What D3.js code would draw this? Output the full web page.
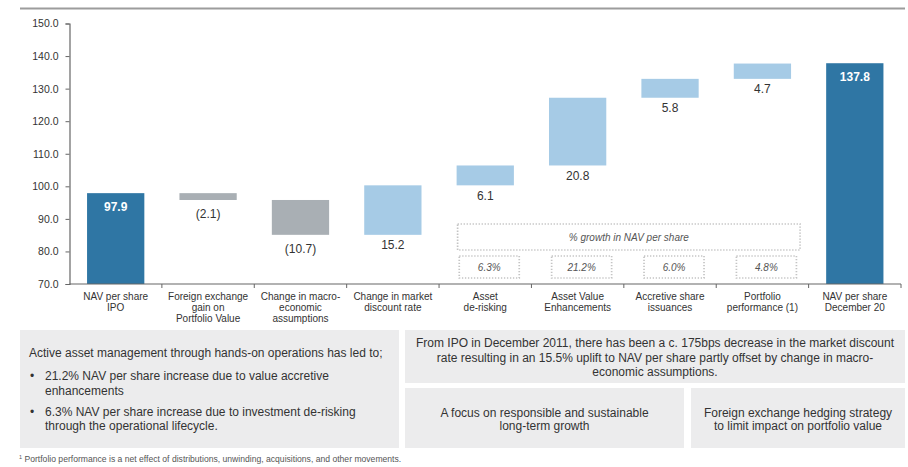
<!DOCTYPE html>
<html>
<head>
<meta charset="utf-8">
<script src="https://cdn.jsdelivr.net/npm/d3@7"></script>
<style>
  html, body { margin: 0; padding: 0; background: #fff; }
  svg { display: block; font-family: "Liberation Sans", Arial, Helvetica, sans-serif; }
</style>
</head>
<body>
<svg id="chart" width="908" height="467"></svg>
<script>
// NAV per share bridge: IPO to December 2020
const categories = [
  ["NAV per share", "IPO"],
  ["Foreign exchange", "gain on", "Portfolio Value"],
  ["Change in macro-", "economic", "assumptions"],
  ["Change in market", "discount rate"],
  ["Asset", "de-risking"],
  ["Asset Value", "Enhancements"],
  ["Accretive share", "issuances"],
  ["Portfolio", "performance (1)"],
  ["NAV per share", "December 20"]
];
const steps = [97.9, -2.1, -10.7, 15.2, 6.1, 20.8, 5.8, 4.7, 137.8];
const stepTypes = ["total", "delta", "delta", "delta", "delta", "delta", "delta", "delta", "total"];
const growthLabels = ["6.3%", "21.2%", "6.0%", "4.8%"];
const growthIndex = [4, 5, 6, 7];
const yTicks = [70, 80, 90, 100, 110, 120, 130, 140, 150];

const colors = { total: "#2F76A4", up: "#A6CBE6", down: "#A9AFB4", text: "#333", axis: "#666" };

const svg = d3.select("#chart");

// header rule
svg.append("line").attr("x1", 20).attr("x2", 905).attr("y1", 8.5).attr("y2", 8.5)
  .attr("stroke", "#9c9c9c").attr("stroke-width", 2);

const keys = categories.map((c, i) => "c" + i);
const x = d3.scaleBand().domain(keys).range([69.5, 901]).paddingInner(0.38).paddingOuter(0.19);
const y = d3.scaleLinear().domain([70, 150]).range([284, 23.5]);

// running totals for the waterfall
let running = 0;
const bars = steps.map((v, i) => {
  let lo, hi;
  if (stepTypes[i] === "total") { lo = 70; hi = v; running = v; }
  else { const start = running; running = start + v; lo = Math.min(start, running); hi = Math.max(start, running); }
  return { key: keys[i], v, lo, hi, type: stepTypes[i] };
});

// y axis
const yAxis = d3.axisLeft(y).tickValues(yTicks).tickFormat(d3.format(".1f")).tickSizeOuter(0).tickSize(4).tickPadding(7);
const gy = svg.append("g").attr("transform", "translate(69.5,0)").call(yAxis);
gy.select(".domain").attr("stroke", colors.axis).attr("stroke-width", 1.2);
gy.selectAll(".tick line").attr("stroke", colors.axis);
gy.selectAll(".tick text").attr("fill", colors.text).style("font-size", "10.5px").style("font-family", "inherit");

// bars
svg.append("g").selectAll("rect").data(bars).join("rect")
  .attr("x", d => x(d.key))
  .attr("width", x.bandwidth())
  .attr("y", d => y(d.hi))
  .attr("height", d => y(d.lo) - y(d.hi))
  .attr("fill", d => d.type === "total" ? colors.total : (d.v < 0 ? colors.down : colors.up));

// x axis with ticks between categories
const step = x.step();
const xBase = y(70);
svg.append("line").attr("x1", 69.5).attr("x2", 901).attr("y1", xBase).attr("y2", xBase)
  .attr("stroke", colors.axis).attr("stroke-width", 1.2);
const boundaries = keys.slice(1).map(k => x(k) - step * x.paddingInner() / 2).concat([901]);
svg.append("g").selectAll("line").data(boundaries).join("line")
  .attr("x1", d => d).attr("x2", d => d).attr("y1", xBase).attr("y2", xBase + 4)
  .attr("stroke", colors.axis).attr("stroke-width", 1);

// category labels
const catG = svg.append("g").selectAll("text").data(categories).join("text")
  .attr("text-anchor", "middle").attr("fill", colors.text).style("font-size", "10px")
  .attr("transform", (d, i) => `translate(${x(keys[i]) + x.bandwidth() / 2},299.5)`);
catG.selectAll("tspan").data(d => d).join("tspan")
  .attr("x", 0).attr("dy", (d, j) => j === 0 ? 0 : 11).text(d => d);

// value labels
const fmt = v => v < 0 ? `(${Math.abs(v).toFixed(1)})` : v.toFixed(1);
svg.append("g").selectAll("text").data(bars).join("text")
  .attr("text-anchor", "middle")
  .attr("x", d => x(d.key) + x.bandwidth() / 2)
  .attr("y", d => d.type === "total" ? y(d.hi) + 17.5 : y(d.lo) + (d.v < 0 ? 18.5 : 14.5))
  .attr("fill", d => d.type === "total" ? "#fff" : colors.text)
  .style("font-weight", d => d.type === "total" ? "bold" : "normal")
  .style("font-size", "12px")
  .text(d => fmt(d.v));

// growth annotation boxes
const dotted = g => g.attr("fill", "none").attr("stroke", "#c4c4c4").attr("stroke-width", 1.7).attr("stroke-dasharray", "1.3,1.7");
const bx0 = x(keys[growthIndex[0]]) + 1;
const bx1 = x(keys[growthIndex[3]]) + x.bandwidth() + 9;
svg.append("rect").attr("x", bx0).attr("y", xBase - 60).attr("width", bx1 - bx0).attr("height", 26).call(dotted);
svg.append("text").attr("x", (bx0 + bx1) / 2).attr("y", xBase - 43.5).attr("text-anchor", "middle")
  .attr("fill", "#555").style("font-style", "italic").style("font-size", "10px").text("% growth in NAV per share");
const gb = svg.append("g").selectAll("g").data(growthLabels).join("g")
  .attr("transform", (d, i) => `translate(${x(keys[growthIndex[i]]) + x.bandwidth() / 2 + 4},${xBase - 17})`);
gb.append("rect").attr("x", -30).attr("y", -11).attr("width", 60).attr("height", 22).call(dotted);
gb.append("text").attr("y", 3.5).attr("text-anchor", "middle").attr("fill", "#555")
  .style("font-style", "italic").style("font-size", "10px").text(d => d);

// commentary panels
const panelFill = "#ECECED";
svg.append("rect").attr("x", 20).attr("y", 330).attr("width", 379).attr("height", 118).attr("fill", panelFill);
svg.append("rect").attr("x", 405).attr("y", 330).attr("width", 500).attr("height", 53).attr("fill", panelFill);
svg.append("rect").attr("x", 405).attr("y", 388).attr("width", 279).attr("height", 60).attr("fill", panelFill);
svg.append("rect").attr("x", 691).attr("y", 388).attr("width", 214).attr("height", 60).attr("fill", panelFill);

const para = (lines, cx, y0, lh, anchor) => {
  const t = svg.append("text").attr("fill", colors.text).style("font-size", "12px").attr("text-anchor", anchor || "middle");
  lines.forEach((l, i) => t.append("tspan").attr("x", cx).attr("y", y0 + i * lh).text(l));
};
para(["Active asset management through hands-on operations has led to;"], 29, 357, 0, "start");
svg.append("text").attr("x", 30).attr("y", 380).attr("fill", colors.text).style("font-size", "12px").text("•");
para(["21.2% NAV per share increase due to value accretive", "enhancements"], 45, 380, 14.5, "start");
svg.append("text").attr("x", 30).attr("y", 415.5).attr("fill", colors.text).style("font-size", "12px").text("•");
para(["6.3% NAV per share increase due to investment de-risking", "through the operational lifecycle."], 45, 415.5, 14.5, "start");

para(["From IPO in December 2011, there has been a c. 175bps decrease in the market discount",
      "rate resulting in an 15.5% uplift to NAV per share partly offset by change in macro-",
      "economic assumptions."], 655, 347, 14.7);
para(["A focus on responsible and sustainable", "long-term growth"], 544.5, 416.5, 13.5);
para(["Foreign exchange hedging strategy", "to limit impact on portfolio value"], 798, 416.5, 13.5);

// footnote
const fn = svg.append("text").attr("x", 19).attr("y", 462).attr("fill", "#555").style("font-size", "8.6px");
fn.append("tspan").attr("dy", -3).style("font-size", "5.5px").text("1");
fn.append("tspan").attr("dy", 3).text(" Portfolio performance is a net effect of distributions, unwinding, acquisitions, and other movements.");
</script>
</body>
</html>
